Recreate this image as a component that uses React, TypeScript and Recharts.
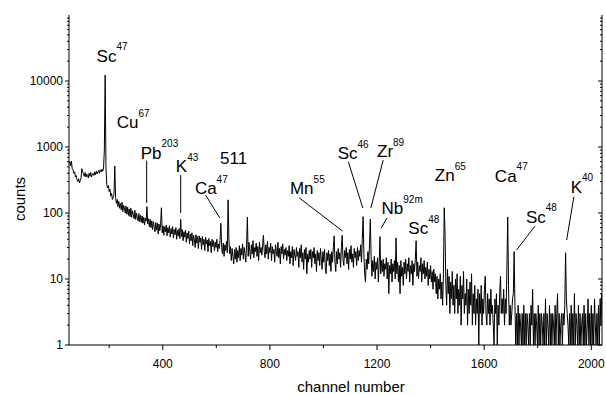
import React from "react";
import { LineChart, Line, XAxis, YAxis, ReferenceLine, ReferenceDot } from "recharts";

// spectrum: counts per 3-channel bin starting at channel 50 (one row = 90 channels)
const CH_START = 50;
const CH_STEP = 3;

const counts = [
  // 50-137
  560, 600, 520, 610, 470, 450, 400, 420, 350, 370, 320, 300, 330, 285, 310, 340, 470, 420, 400, 360, 410, 350, 390, 370, 340, 400, 360, 410, 350, 390,
  // 140-227
  400, 370, 420, 380, 430, 390, 420, 440, 400, 450, 420, 460, 430, 480, 900, 12300, 500, 270, 240, 260, 210, 230, 180, 200, 160, 175, 190, 515, 170, 140,
  // 230-317
  160, 125, 150, 118, 140, 112, 145, 105, 130, 120, 100, 128, 96, 122, 92, 115, 88, 118, 86, 108, 95, 82, 110, 80, 100, 85, 76, 98, 74, 92,
  // 320-407
  72, 90, 70, 86, 66, 84, 75, 125, 68, 82, 62, 80, 60, 76, 56, 74, 62, 52, 72, 55, 70, 48, 68, 54, 66, 120, 50, 64, 46, 62,
  // 410-497
  52, 66, 45, 60, 50, 64, 43, 58, 48, 62, 42, 56, 47, 60, 40, 55, 45, 58, 41, 80, 44, 56, 38, 52, 43, 55, 36, 50, 41, 53,
  // 500-587
  34, 48, 38, 50, 32, 46, 40, 30, 47, 35, 44, 29, 45, 36, 42, 28, 44, 33, 40, 27, 43, 34, 39, 26, 41, 32, 37, 25, 40, 31,
  // 590-677
  38, 27, 36, 30, 40, 26, 34, 29, 38, 70, 30, 24, 35, 22, 33, 27, 37, 25, 158, 40, 24, 31, 19, 29, 22, 17, 28, 20, 30, 18,
  // 680-767
  27, 21, 32, 19, 29, 23, 34, 20, 30, 24, 18, 33, 87, 22, 36, 26, 20, 33, 24, 38, 21, 30, 26, 35, 22, 31, 19, 36, 25, 30,
  // 770-857
  23, 34, 46, 26, 21, 33, 24, 37, 20, 30, 25, 35, 19, 31, 24, 28, 18, 33, 26, 22, 36, 21, 29, 17, 31, 24, 34, 20, 28, 23,
  // 860-947
  30, 19, 27, 22, 32, 17, 26, 21, 31, 16, 28, 23, 19, 30, 22, 26, 15, 29, 21, 33, 18, 25, 14, 28, 20, 30, 12, 24, 18, 27,
  // 950-1037
  20, 28, 15, 26, 21, 30, 17, 24, 13, 27, 19, 25, 16, 29, 20, 14, 26, 18, 28, 15, 12, 25, 19, 27, 16, 24, 13, 26, 18, 30,
  // 1040-1127
  45, 18, 13, 26, 17, 29, 20, 25, 15, 31, 46, 20, 16, 27, 21, 30, 17, 25, 14, 28, 20, 32, 18, 24, 15, 29, 21, 26, 16, 30,
  // 1130-1217
  19, 27, 22, 33, 18, 40, 88, 24, 12, 9, 20, 14, 26, 17, 34, 81, 22, 11, 19, 13, 22, 10, 18, 14, 21, 9, 17, 44, 12, 19,
  // 1220-1307
  13, 20, 11, 17, 14, 21, 10, 18, 6, 16, 12, 20, 9, 17, 13, 19, 10, 42, 12, 18, 9, 16, 6, 19, 11, 15, 8, 18, 12, 20,
  // 1310-1397
  10, 17, 13, 21, 9, 16, 12, 19, 8, 17, 13, 20, 38, 11, 18, 10, 16, 13, 21, 9, 17, 12, 19, 10, 15, 11, 18, 8, 14, 10,
  // 1400-1487
  16, 9, 13, 7, 14, 9, 12, 6, 11, 5, 10, 7, 12, 5, 9, 4, 12, 120, 50, 8, 4, 14, 6, 11, 3, 9, 5, 13, 4, 8,
  // 1490-1577
  3, 10, 5, 12, 3, 7, 4, 11, 2, 8, 5, 13, 3, 6, 4, 10, 2, 7, 3, 9, 4, 12, 2, 6, 3, 8, 2, 5, 3, 7,
  // 1580-1667
  1, 6, 3, 8, 2, 5, 3, 7, 11, 3, 2, 6, 3, 5, 2, 7, 3, 4, 2, 1, 5, 3, 6, 1, 4, 2, 6, 11, 3, 5,
  // 1670-1757
  3, 7, 2, 5, 3, 15, 87, 8, 2, 4, 2, 3, 5, 6, 26, 4, 1, 3, 1, 4, 1, 3, 2, 1, 3, 1, 4, 1, 3, 1,
  // 1760-1847
  3, 2, 1, 3, 1, 4, 2, 7, 1, 3, 1, 3, 2, 1, 4, 1, 3, 1, 3, 2, 1, 3, 1, 5, 1, 3, 2, 1, 4, 1,
  // 1850-1937
  3, 1, 3, 2, 1, 4, 1, 3, 6, 1, 3, 1, 2, 3, 1, 3, 2, 4, 25, 5, 3, 2, 1, 3, 1, 4, 1, 3, 1, 6,
  // 1940-2027
  1, 3, 2, 1, 4, 1, 3, 1, 2, 3, 1, 4, 1, 3, 1, 2, 5, 1, 3, 1, 4, 1, 3, 1, 5, 2, 1, 3, 1, 4,
  // 2030-2039
  1, 5, 2, 6,
];

const xTicks = [200, 400, 600, 800, 1000, 1200, 1400, 1600, 1800, 2000];
const xLabeled = [400, 800, 1200, 1600, 2000];
const yLabeled = [1, 10, 100, 1000, 10000];
const yMinorSteps = [2, 3, 4, 5, 6, 7, 8, 9];

// peak labels: text origin in data coords (channel, counts)
const peakLabels = [
  { ch: 153, c: 19600, main: "Sc", sup: "47" },
  { ch: 228, c: 1920, main: "Cu", sup: "67" },
  { ch: 318, c: 658, main: "Pb", sup: "203" },
  { ch: 449, c: 414, main: "K", sup: "43" },
  { ch: 520, c: 194, main: "Ca", sup: "47" },
  { ch: 614, c: 552, main: "511", sup: "" },
  { ch: 875, c: 194, main: "Mn", sup: "55" },
  { ch: 1053, c: 651, main: "Sc", sup: "46" },
  { ch: 1200, c: 705, main: "Zr", sup: "89" },
  { ch: 1217, c: 95, main: "Nb", sup: "92m" },
  { ch: 1317, c: 48, main: "Sc", sup: "48" },
  { ch: 1416, c: 305, main: "Zn", sup: "65" },
  { ch: 1640, c: 298, main: "Ca", sup: "47" },
  { ch: 1756, c: 71, main: "Sc", sup: "48" },
  { ch: 1923, c: 203, main: "K", sup: "40" },
];

// leader lines [ch1, c1, ch2, c2]
const leaders = [
  [340, 620, 340, 142],
  [467, 376, 467, 100],
  [560, 187, 613, 84],
  [910, 169, 1072, 53],
  [1093, 599, 1147, 119],
  [1223, 635, 1177, 119],
  [1237, 84, 1216, 59],
  [1790, 63.5, 1721, 27.5],
  [1935, 177, 1908, 39],
];

const data = counts.map((c, i) => ({ ch: CH_START + i * CH_STEP, counts: c }));

const yTicks = yLabeled.flatMap((d) => [d, ...yMinorSteps.map((m) => m * d)]);

const FONT = "'Liberation Sans', Arial, sans-serif";
const PLOT_LEFT = 69;
const PLOT_RIGHT = 602;
const PLOT_BOTTOM = 345;

const LeftTick = (props: any) => {
  const { y, payload } = props;
  const major = yLabeled.includes(payload.value);
  return (
    <g>
      <line x1={PLOT_LEFT - (major ? 4 : 2)} x2={PLOT_LEFT} y1={y} y2={y} stroke="#000" />
      {major && (
        <text x={PLOT_LEFT - 6} y={y} dy="0.36em" textAnchor="end" fontSize={12} fontFamily={FONT} fill="#000">
          {payload.value}
        </text>
      )}
    </g>
  );
};

const RightTick = (props: any) => {
  const { y, payload } = props;
  const major = yLabeled.includes(payload.value);
  return <line x1={PLOT_RIGHT - (major ? 4 : 2)} x2={PLOT_RIGHT} y1={y} y2={y} stroke="#000" />;
};

const BottomTick = (props: any) => {
  const { x, payload } = props;
  const major = xLabeled.includes(payload.value);
  return (
    <g>
      <line x1={x} x2={x} y1={PLOT_BOTTOM} y2={PLOT_BOTTOM + (major ? 5 : 3)} stroke="#000" />
      {major && (
        <text x={x} y={PLOT_BOTTOM + 23} textAnchor="middle" fontSize={12} fontFamily={FONT} fill="#000">
          {payload.value}
        </text>
      )}
    </g>
  );
};

const PeakText = ({ cx, cy, main, sup }: any) => (
  <text x={cx} y={cy} fontSize={17} fontFamily={FONT} fill="#000">
    {main}
    {sup && (
      <tspan dy={-11.5} fontSize={10}>
        {sup}
      </tspan>
    )}
  </text>
);

export default function App() {
  return (
    <div style={{ position: "absolute", left: 0, top: 0, width: 606, height: 394, background: "#fff" }}>
      <LineChart width={606} height={394} data={data} margin={{ top: 15, right: 0, bottom: 0, left: 0 }}>
        <XAxis
          dataKey="ch"
          type="number"
          domain={[50, 2040]}
          allowDataOverflow
          ticks={xTicks}
          interval={0}
          height={49}
          stroke="#000"
          tickLine={false}
          tick={<BottomTick />}
          label={{
            content: () => (
              <text x={351} y={392} textAnchor="middle" fontSize={15} fontFamily={FONT} fill="#000">
                channel number
              </text>
            ),
          }}
        />
        <XAxis xAxisId="top" orientation="top" type="number" domain={[50, 2040]} height={0} stroke="#000" tick={false} tickLine={false} />
        <YAxis
          scale="log"
          type="number"
          domain={[1, 100000]}
          allowDataOverflow
          ticks={yTicks}
          interval={0}
          width={69}
          stroke="#000"
          tickLine={false}
          tick={<LeftTick />}
          label={{
            content: () => (
              <text x={25} y={199} transform="rotate(-90, 25, 199)" textAnchor="middle" fontSize={15} fontFamily={FONT} fill="#000">
                counts
              </text>
            ),
          }}
        />
        <YAxis
          yAxisId="right"
          orientation="right"
          scale="log"
          type="number"
          domain={[1, 100000]}
          allowDataOverflow
          ticks={yTicks}
          interval={0}
          width={4}
          stroke="#000"
          tickLine={false}
          tick={<RightTick />}
        />
        <Line
          dataKey="counts"
          stroke="#000"
          strokeWidth={1}
          dot={false}
          type="linear"
          isAnimationActive={false}
        />
        {leaders.map(([x1, y1, x2, y2], i) => (
          <ReferenceLine
            key={`l${i}`}
            segment={[
              { x: x1, y: y1 },
              { x: x2, y: y2 },
            ]}
            stroke="#000"
            strokeWidth={1}
          />
        ))}
        {peakLabels.map((p, i) => (
          <ReferenceDot
            key={`p${i}`}
            x={p.ch}
            y={p.c}
            r={1}
            shape={(props: any) => <PeakText {...props} main={p.main} sup={p.sup} />}
          />
        ))}
      </LineChart>
    </div>
  );
}
